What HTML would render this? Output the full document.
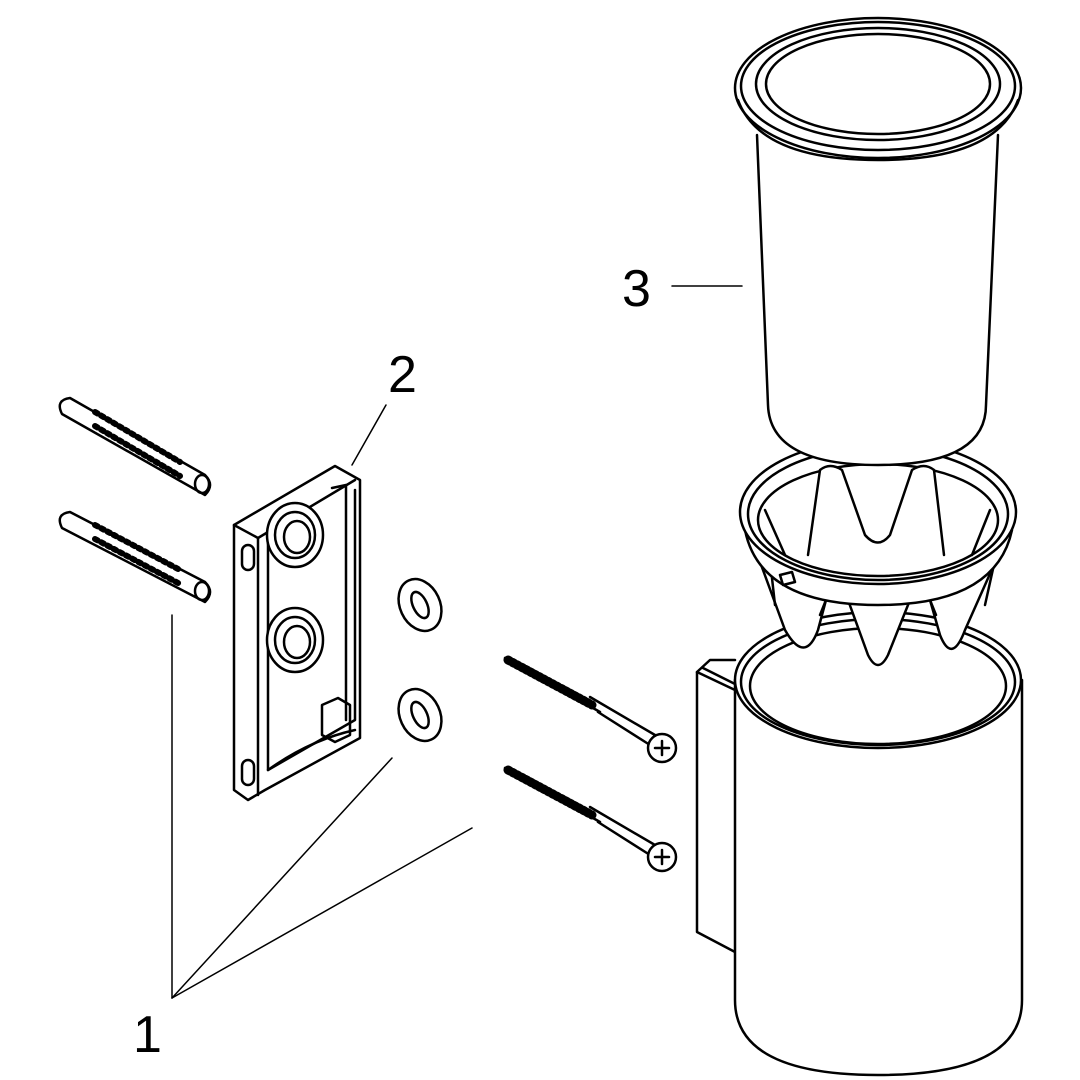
<!DOCTYPE html>
<html><head><style>html,body{margin:0;padding:0;background:#fff}svg{display:block}</style></head>
<body>
<svg width="1080" height="1080" viewBox="0 0 1080 1080" xmlns="http://www.w3.org/2000/svg" fill="none" stroke="#000" stroke-width="2.5" stroke-linejoin="round" stroke-linecap="round">
<!-- labels -->
<g font-family="Liberation Sans, sans-serif" font-size="52" fill="#000" stroke="none">
<text x="622" y="306">3</text>
<text x="388" y="392">2</text>
<text x="133" y="1052">1</text>
</g>
<g stroke-width="1.5">
<line x1="672" y1="286" x2="742" y2="286"/>
<line x1="386" y1="405" x2="352" y2="465"/>
<line x1="172" y1="998" x2="172" y2="615"/>
<line x1="172" y1="998" x2="392" y2="758"/>
<line x1="172" y1="998" x2="472" y2="828"/>
</g>

<!-- wall bracket -->
<path d="M735,660 L710,660 L697,672 L697,932 L735,952" fill="#fff"/>
<line x1="697" y1="672" x2="735" y2="690"/>
<line x1="703" y1="668" x2="735" y2="684"/>
<!-- glass body -->
<path d="M735,680 L735,1000 Q735,1075 878,1075 Q1022,1075 1022,1000 L1022,680" fill="#fff"/>
<ellipse cx="878" cy="680" rx="143" ry="68" fill="#fff"/>
<ellipse cx="878" cy="682" rx="137" ry="63"/>
<ellipse cx="878" cy="686" rx="128" ry="58"/>

<!-- insert spikes -->
<path d="M752,540 L785,630 Q805,665 818,630 L826,600 L848,600 L868,655 Q878,675 888,655 L910,600 L930,600 L940,635 Q952,665 965,630 L1005,540" fill="#fff"/>
<path d="M770,560 L775,605 M995,560 L985,605"/>
<path d="M826,600 L820,615 M930,600 L936,615"/>
<!-- ring band -->
<path d="M745,530 Q760,605 878,605 Q996,605 1012,530" fill="#fff"/>
<ellipse cx="878" cy="512" rx="138" ry="72" fill="#fff"/>
<ellipse cx="878" cy="514" rx="130" ry="66"/>
<ellipse cx="878" cy="520" rx="120" ry="56"/>
<!-- inner spikes -->
<path d="M808,555 L820,470 Q830,462 842,470 L865,535 Q878,550 890,535 L912,470 Q924,462 934,470 L944,555" fill="#fff"/>
<path d="M765,510 L785,555 M990,510 L972,555"/>
<path d="M780,575 L792,572 L795,582 L783,585 Z"/>

<!-- cup 3 -->
<path d="M757,135 L768,405 Q770,465 878,465 Q986,465 986,405 L998,135" fill="#fff"/>
<ellipse cx="878" cy="88" rx="143" ry="70" fill="#fff"/>
<ellipse cx="878" cy="86" rx="137" ry="64"/>
<ellipse cx="878" cy="84" rx="122" ry="56"/>
<ellipse cx="878" cy="84" rx="112" ry="50"/>
<path d="M738,100 Q760,160 878,160 Q996,160 1018,100"/>

<!-- mounting plate 2 -->
<path d="M234,525 L335,466 L360,480 L360,738 L265,790 L248,800 L234,790 Z" fill="#fff"/>
<path d="M234,525 L258,538 L355,480"/>
<path d="M258,538 L258,795"/>
<path d="M268,540 L268,770 L355,720 L355,490"/>
<path d="M268,770 Q310,740 355,730"/>
<path d="M332,488 L346,485 L346,720"/>
<ellipse cx="295" cy="535" rx="28" ry="32" fill="#fff"/>
<ellipse cx="295" cy="535" rx="20" ry="23"/>
<ellipse cx="297" cy="537" rx="13" ry="16"/>
<ellipse cx="295" cy="640" rx="28" ry="32" fill="#fff"/>
<ellipse cx="295" cy="640" rx="20" ry="23"/>
<ellipse cx="297" cy="642" rx="13" ry="16"/>
<rect x="242" y="545" width="12" height="25" rx="6"/>
<rect x="242" y="760" width="12" height="25" rx="6"/>
<path d="M322,705 L338,698 L350,705 L350,735 L335,742 L322,735 Z"/>

<!-- dowels -->
<g>
<path d="M70,398 L205,475 Q215,485 205,495 L62,414 Q55,400 70,398 Z" fill="#fff"/>
<path d="M70,512 L205,582 Q215,592 205,602 L62,528 Q55,514 70,512 Z" fill="#fff"/>
<path d="M95,412 L180,462 M95,426 L180,476" stroke-width="6" stroke-dasharray="3 4"/>
<path d="M95,525 L180,570 M95,539 L180,584" stroke-width="6" stroke-dasharray="3 4"/>
<ellipse cx="202" cy="484" rx="7" ry="9"/>
<ellipse cx="202" cy="591" rx="7" ry="9"/>
</g>

<!-- washers -->
<g transform="rotate(-25 420 605)"><ellipse cx="420" cy="605" rx="20" ry="27" fill="#fff"/><ellipse cx="420" cy="605" rx="7" ry="14"/></g>
<g transform="rotate(-25 420 715)"><ellipse cx="420" cy="715" rx="20" ry="27" fill="#fff"/><ellipse cx="420" cy="715" rx="7" ry="14"/></g>

<!-- screws -->
<path d="M505,658 L595,705 M590,697 L655,735 M598,712 L650,745 M505,658 L600,712" />
<path d="M508,660 L592,705" stroke-width="9" stroke-dasharray="2 3"/>
<circle cx="662" cy="748" r="14" fill="#fff"/>
<path d="M655,748 L669,748 M662,741 L662,755"/>
<path d="M505,768 L595,815 M590,807 L655,845 M598,822 L650,855 M505,768 L600,822"/>
<path d="M508,770 L592,815" stroke-width="9" stroke-dasharray="2 3"/>
<circle cx="662" cy="857" r="14" fill="#fff"/>
<path d="M655,857 L669,857 M662,850 L662,864"/>
</svg>
</body></html>
